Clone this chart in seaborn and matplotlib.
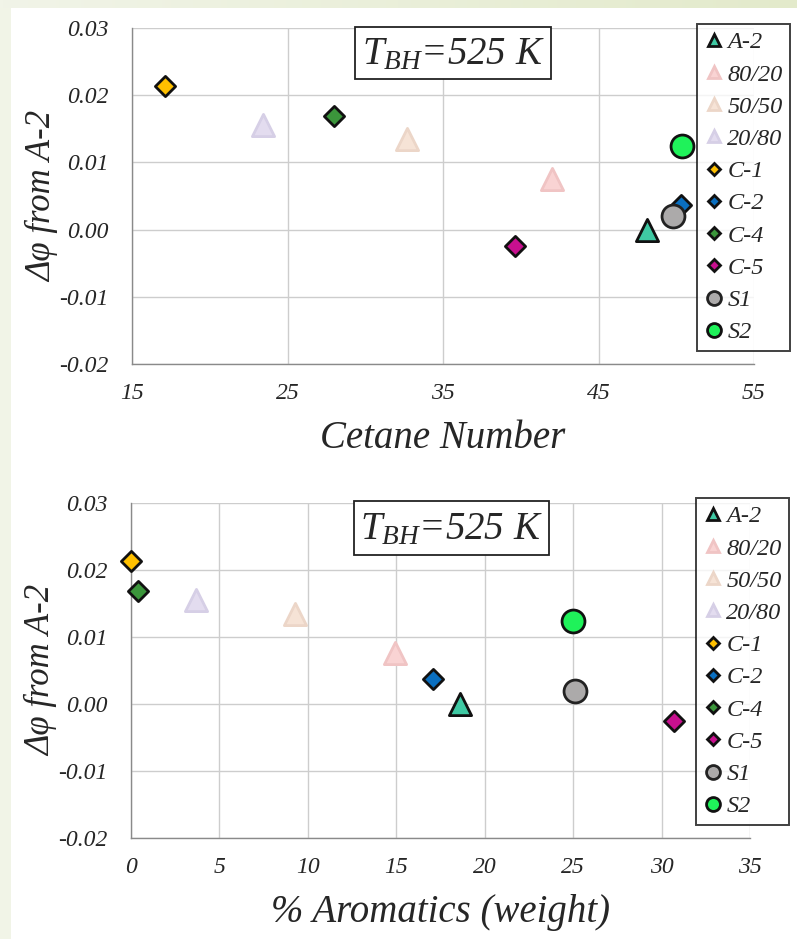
import numpy as np
import pandas as pd
import matplotlib
matplotlib.use("Agg")
import matplotlib.pyplot as plt
from matplotlib.lines import Line2D
from matplotlib.patches import Rectangle
from matplotlib.colors import LinearSegmentedColormap
import seaborn as sns

# Fuel data
fuels = ["A-2", "80/20", "50/50", "20/80", "C-1", "C-2", "C-4", "C-5", "S1", "S2"]
cetane_number = [48.1, 42.0, 32.7, 23.4, 17.1, 50.3, 28.0, 39.6, 49.8, 50.4]
aromatics_wt = [18.6, 14.9, 9.3, 3.7, 0.0, 17.1, 0.4, 30.7, 25.1, 25.0]
delta_phi = [0.0, 0.0076, 0.0135, 0.0155, 0.0214, 0.0037, 0.0169, -0.0025, 0.0020, 0.0124]

fill_colors = ["#3fc9a3", "#f9d3d3", "#f6e3d6", "#e3dcef", "#ffc000", "#0a6fc0",
               "#3b963b", "#c8108f", "#acaaaa", "#1ff25a"]
edge_colors = ["#111111", "#f0c4c4", "#ecd6c8", "#d6cfe6", "#111111", "#111111",
               "#111111", "#111111", "#222222", "#111111"]
markers = ["^", "^", "^", "^", "D", "D", "D", "D", "o", "o"]

df = pd.DataFrame({"fuel": fuels, "cetane": cetane_number,
                   "aromatics": aromatics_wt, "dphi": delta_phi})

sns.set_theme(style="white")
plt.rcParams["font.family"] = ["Liberation Serif", "DejaVu Serif"]
plt.rcParams["mathtext.fontset"] = "custom"
plt.rcParams["mathtext.it"] = "Liberation Serif:italic"
plt.rcParams["mathtext.rm"] = "Liberation Serif:italic"

W, H = 797, 939
fig = plt.figure(figsize=(W / 100, H / 100), dpi=100)
fig.patch.set_facecolor("white")

# soft border bands
fig.add_artist(Rectangle((0, 0), 11 / W, 1, transform=fig.transFigure,
                         facecolor="#f1f4e7", edgecolor="none", zorder=-5))
band = np.linspace(0, 1, 256).reshape(1, -1)
band_cmap = LinearSegmentedColormap.from_list("band", ["#f1f4e8", "#e3eacb"])
band_ax = fig.add_axes([0, 1 - 8 / H, 1, 8 / H], zorder=-4)
band_ax.imshow(band, aspect="auto", cmap=band_cmap, extent=(0, 1, 0, 1))
band_ax.set_axis_off()

ax1 = fig.add_axes([132 / W, 1 - 364 / H, (754 - 132) / W, (364 - 28) / H])
ax2 = fig.add_axes([131 / W, 1 - 838 / H, (750 - 131) / W, (838 - 503) / H])

size_pt = {"^": 16.0, "D": 10.3, "o": 16.5}


def draw_panel(ax, xcol, xlim, xmajor, xminor, xlabel, box_xy, leg_box):
    for i, f in enumerate(fuels):
        sub = df[df["fuel"] == f]
        m = markers[i]
        sns.scatterplot(data=sub, x=xcol, y="dphi", ax=ax, marker=m,
                        s=size_pt[m] ** 2, color=fill_colors[i],
                        edgecolor=edge_colors[i], linewidth=2.0,
                        zorder=3 + i, legend=False, clip_on=False)
    ax.set_xlim(*xlim)
    ax.set_ylim(-0.02, 0.03)
    xt = np.arange(xlim[0], xlim[1] + 0.1, xmajor)
    yt = np.arange(-0.02, 0.0301, 0.01)
    ax.set_xticks(xt)
    ax.set_xticks(np.arange(xlim[0], xlim[1] + 0.1, xminor), minor=True)
    ax.set_yticks(yt)
    ax.set_yticks(np.arange(-0.02, 0.0301, 0.002), minor=True)
    ax.set_yticklabels([f"{v:.2f}" for v in yt], fontstyle="italic", fontsize=17)
    ax.set_xticklabels([f"{v:g}" for v in xt], fontstyle="italic", fontsize=17)
    ax.grid(True, which="major", color="#cdcdcd", linewidth=1.0)
    ax.set_axisbelow(True)
    for s in ["top", "right"]:
        ax.spines[s].set_visible(False)
    for s in ["left", "bottom"]:
        ax.spines[s].set_color("#8a8a8a")
        ax.spines[s].set_linewidth(1.0)
    ax.tick_params(axis="both", which="both", direction="out", color="#8a8a8a",
                   width=1.0, labelcolor="#262626")
    ax.tick_params(axis="both", which="major", length=6)
    ax.tick_params(axis="both", which="minor", length=5)
    ax.tick_params(axis="x", which="major", pad=8)
    ax.tick_params(axis="y", which="major", pad=11)
    ax.set_xlabel(xlabel, fontsize=28, fontstyle="italic", labelpad=11)
    ax.set_ylabel("Δφ from A-2", fontsize=25, fontstyle="italic", labelpad=0)

    # temperature annotation box
    bx0, by0, bx1, by1 = box_xy
    fig.add_artist(Rectangle((bx0 / W, 1 - by1 / H), (bx1 - bx0) / W, (by1 - by0) / H,
                             transform=fig.transFigure, facecolor="white",
                             edgecolor="#222222", linewidth=1.3, zorder=10))
    fig.text((bx0 + bx1) / 2 / W, 1 - (by0 + by1) / 2 / H - 0.002,
             r"$T_{BH}$=525 K", fontsize=28, fontstyle="italic",
             ha="center", va="center", zorder=11)

    handles = []
    for i, f in enumerate(fuels):
        m = markers[i]
        ms = {"^": 9.0, "D": 6.5, "o": 10.0}[m]
        handles.append(Line2D([], [], linestyle="none", marker=m, markersize=ms,
                              markerfacecolor=fill_colors[i],
                              markeredgecolor=edge_colors[i], markeredgewidth=2.0,
                              label=f))
    lx0, ly0, lx1, ly1 = leg_box
    leg = fig.legend(handles=handles, loc="upper left",
                     bbox_to_anchor=(lx0 / W, 1 - ly0 / H),
                     bbox_transform=fig.transFigure, frameon=True, fancybox=False,
                     prop={"size": 17.5, "style": "italic", "family": "Liberation Serif"},
                     handlelength=0.8, handletextpad=0.15, labelspacing=0.42,
                     borderpad=0.3, borderaxespad=0.0)
    leg.get_frame().set_edgecolor("#111111")
    leg.get_frame().set_linewidth(1.4)
    leg.set_zorder(20)


draw_panel(ax1, "cetane", (15, 55), 10, 2, "Cetane Number",
           (355, 27, 551, 79), (697, 24, 788, 349))
draw_panel(ax2, "aromatics", (0, 35), 5, 1, "% Aromatics (weight)",
           (354, 501, 549, 555), (696, 498, 786, 826))

fig.savefig("out.png", dpi=100, facecolor=fig.get_facecolor())
